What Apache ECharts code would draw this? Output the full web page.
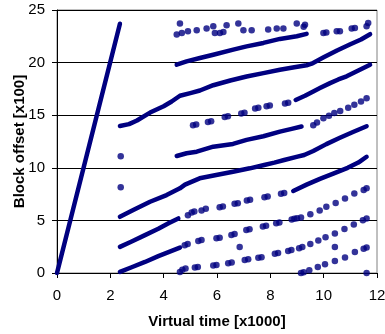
<!DOCTYPE html>
<html>
<head>
<meta charset="utf-8">
<script src="https://cdn.jsdelivr.net/npm/echarts@6/dist/echarts.min.js"></script>
<style>
  html, body { margin: 0; padding: 0; background: #fff; }
  #main { width: 385px; height: 334px; }
</style>
</head>
<body>
<div id="main"></div>
<script>
// 读图得到的数据 (x: 虚拟时间/1000, y: 块偏移/100)
const xTicks = [0, 2, 4, 6, 8, 10, 12];
const yTicks = [0, 5, 10, 15, 20, 25];

// 连续的密集线段
const steepRun = [[0, 0], [2.36, 23.7]];
const band0 = [[2.36, 0.1], [2.8, 0.55], [3.3, 1.05], [3.8, 1.6], [4.3, 2.1], [4.61, 2.42]];
const band1 = [[2.36, 2.48], [2.8, 3.0], [3.3, 3.6], [3.8, 4.2], [4.2, 4.75], [4.55, 5.19]];
const band2 = [[2.36, 5.34], [2.86, 5.98], [3.49, 6.77], [4.11, 7.41], [4.61, 8.05], [4.8, 8.4], [5.35, 9.0],
  [5.97, 9.31], [6.6, 9.63], [7.23, 9.95], [7.77, 10.27], [8.15, 10.49], [8.52, 10.74], [9.02, 11.06],
  [9.27, 11.22], [9.61, 11.6], [10.1, 12.25], [10.61, 12.85], [11.1, 13.4], [11.61, 13.95]];
const band3 = [[2.36, 13.98], [2.7, 14.15], [3.0, 14.5], [3.49, 15.25], [4.0, 15.85], [4.3, 16.3], [4.61, 16.85],
  [5.0, 17.1], [5.36, 17.35], [5.86, 17.85], [6.5, 18.3], [7.11, 18.68], [7.74, 19.0], [8.36, 19.32],
  [8.9, 19.55], [9.36, 19.75], [9.55, 19.9], [10.0, 20.5], [10.5, 21.15], [11.0, 21.75], [11.4, 22.2], [11.74, 22.7]];
const rowB = [[4.49, 19.8], [4.86, 20.11], [5.36, 20.44], [5.86, 20.75], [6.61, 21.23], [7.11, 21.54],
  [7.74, 21.87], [8.36, 22.25], [8.99, 22.5], [9.36, 22.73]];
const rowF = [[4.49, 11.12], [4.86, 11.38], [5.24, 11.53], [5.86, 12.01], [6.6, 12.27], [7.11, 12.65],
  [7.74, 13.0], [8.36, 13.44], [8.8, 13.7], [9.17, 13.92]];
const rowETail = [[8.95, 16.45], [9.3, 16.85], [9.61, 17.26], [9.86, 17.58], [10.24, 18.05], [10.55, 18.4],
  [10.86, 18.7], [11.3, 19.25], [11.74, 19.8]];
const rowL2Tail = [[8.86, 7.8], [9.36, 8.4], [9.86, 8.95], [10.36, 9.45], [10.9, 10.0], [11.3, 10.5], [11.61, 11.05]];

// 虚线/点状的部分
const rowL0 = [[4.61, 0.1], [4.7, 0.3], [4.82, 0.42], [5.17, 0.52], [5.28, 0.58], [5.86, 0.71], [5.98, 0.76],
  [6.42, 0.92], [6.55, 0.99], [7.04, 1.24], [7.17, 1.31], [7.55, 1.44], [7.67, 1.5], [8.17, 1.82], [8.29, 1.89],
  [8.67, 2.09], [8.79, 2.18], [9.08, 2.36], [9.2, 2.46], [9.5, 2.75], [9.8, 3.1], [10.07, 3.4], [10.42, 3.76],
  [10.78, 4.18], [11.13, 4.62], [11.47, 5.02], [11.61, 5.19]];
const rowL1 = [[4.79, 2.64], [4.9, 2.75], [5.3, 3.05], [5.42, 3.14], [5.98, 3.3], [6.1, 3.36], [6.54, 3.62],
  [6.66, 3.7], [7.1, 4.08], [7.22, 4.17], [7.72, 4.42], [7.84, 4.48], [8.22, 4.73], [8.34, 4.8], [8.8, 5.08],
  [8.9, 5.15], [9.0, 5.2], [9.15, 5.28], [9.5, 5.58], [9.85, 5.95], [10.1, 6.3], [10.45, 6.65], [10.8, 7.09],
  [11.15, 7.55], [11.5, 7.9], [11.61, 8.05]];
const rowL2 = [[4.91, 5.5], [5.05, 5.75], [5.15, 5.85], [5.42, 5.95], [5.58, 6.1], [6.1, 6.26], [6.22, 6.32],
  [6.66, 6.58], [6.78, 6.64], [7.12, 6.9], [7.24, 6.96], [7.78, 7.21], [7.9, 7.27], [8.4, 7.54], [8.52, 7.6]];
const rowLow = [[9.15, 0.0], [9.25, 0.08], [9.46, 0.26], [9.78, 0.57], [10.05, 0.83], [10.42, 1.14],
  [10.8, 1.47], [11.17, 2.0], [11.5, 2.3], [11.61, 2.42]];
const rowE = [[5.1, 14.05], [5.22, 14.12], [5.66, 14.36], [5.78, 14.42], [6.29, 14.84], [6.41, 14.9],
  [6.91, 15.17], [7.03, 15.23], [7.43, 15.63], [7.55, 15.7], [7.86, 15.86], [7.98, 15.92], [8.55, 16.12], [8.67, 16.18]];
const rowFTail = [[9.61, 14.05], [9.75, 14.3], [9.99, 14.72], [10.2, 14.95], [10.4, 15.2], [10.62, 15.4],
  [10.92, 15.7], [11.15, 16.0], [11.4, 16.3], [11.61, 16.6]];
const topDots = [[4.49, 22.66], [4.61, 23.71], [4.68, 22.82], [4.91, 22.97], [5.24, 23.07], [5.61, 23.23],
  [5.86, 23.45], [5.92, 22.82], [6.11, 22.82], [6.24, 22.92], [6.36, 23.55], [6.8, 23.71], [6.99, 23.07],
  [7.3, 23.07], [7.92, 23.14], [8.24, 23.23], [8.49, 23.23], [8.99, 23.71], [9.25, 23.4], [9.3, 23.6],
  [9.99, 22.82], [10.1, 22.85], [10.49, 22.97], [10.61, 22.97], [11.05, 23.23], [11.17, 23.3],
  [11.61, 23.45], [11.67, 23.77]];
const strays = [[2.39, 11.1], [2.39, 8.14], [6.85, 2.48], [10.42, 2.48], [11.61, 0.0]];

const navy = '#000080';

const lineRuns = [steepRun, band0, band1, band2, band3, rowB, rowF, rowETail, rowL2Tail];
const dotRuns = [rowL0, rowL1, rowL2, rowLow, rowE, rowFTail, topDots, strays];

const series = [];
lineRuns.forEach(d => {
  series.push({
    type: 'line',
    data: d,
    showSymbol: false,
    lineStyle: { color: navy, width: 4.5, cap: 'round', join: 'round' },
    silent: true
  });
});
dotRuns.forEach(d => {
  series.push({
    type: 'scatter',
    data: d,
    symbol: 'circle',
    symbolSize: 6.5,
    itemStyle: { color: navy },
    silent: true
  });
});

const myChart = echarts.init(document.getElementById('main'));
const option = {
  animation: false,
  grid: {
    left: 57,
    right: 8,
    top: 10,
    bottom: 61,
    outerBoundsMode: 'none',
    containLabel: false,
    show: true,
    borderColor: '#808080',
    borderWidth: 1
  },
  xAxis: {
    type: 'value',
    min: xTicks[0],
    max: xTicks[xTicks.length - 1],
    interval: 2,
    name: 'Virtual time [x1000]',
    nameLocation: 'middle',
    nameGap: 41,
    nameMoveOverlap: false,
    nameTextStyle: { fontFamily: 'Liberation Sans', fontWeight: 'bold', fontSize: 15, color: '#000' },
    axisLine: { lineStyle: { color: '#000' } },
    axisTick: { show: true, inside: false, length: 5, lineStyle: { color: '#000' } },
    axisLabel: { fontFamily: 'Liberation Sans', fontSize: 15, color: '#000', margin: 15 },
    splitLine: { show: false }
  },
  yAxis: {
    type: 'value',
    min: yTicks[0],
    max: yTicks[yTicks.length - 1],
    interval: 5,
    name: 'Block offset [x100]',
    nameLocation: 'middle',
    nameGap: 30,
    nameMoveOverlap: false,
    nameTextStyle: { fontFamily: 'Liberation Sans', fontWeight: 'bold', fontSize: 15, color: '#000' },
    axisLine: { show: true, lineStyle: { color: '#000' } },
    axisTick: { show: true, inside: false, length: 5, lineStyle: { color: '#000' } },
    axisLabel: { fontFamily: 'Liberation Sans', fontSize: 15, color: '#000', margin: 12 },
    splitLine: { show: true, lineStyle: { color: '#000', width: 1 } }
  },
  series: series
};
myChart.setOption(option);
</script>
</body>
</html>
